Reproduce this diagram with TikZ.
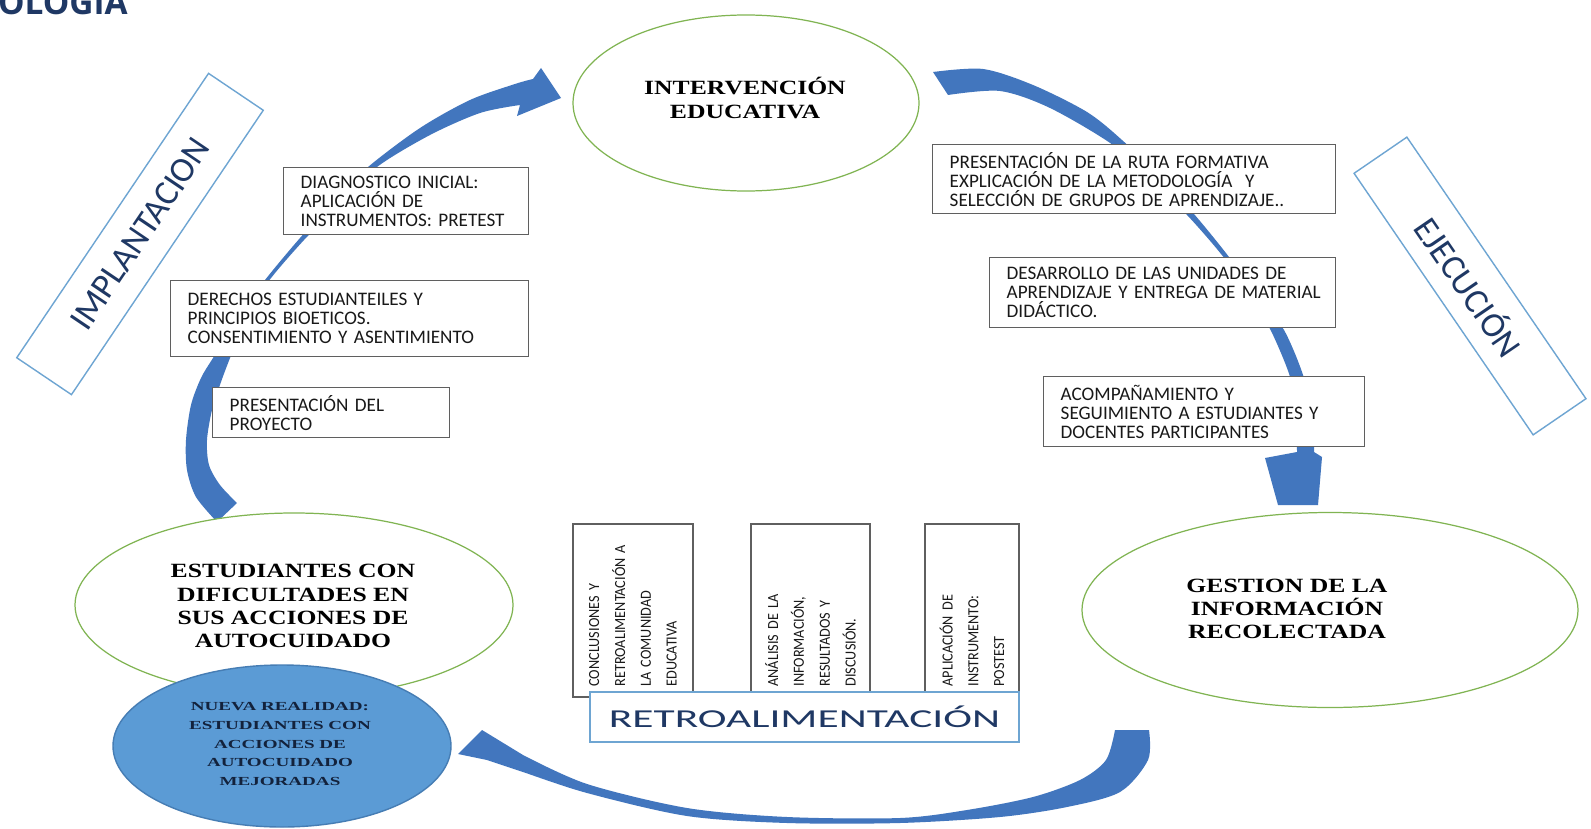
\documentclass[tikz,border=0pt]{standalone}
\usepackage{fontspec}
\setmainfont{Liberation Serif}
\newfontfamily\boxfont{Carlito}
\newfontfamily\narrowfont{Carlito}[FakeStretch=0.92]
\newfontfamily\widefont{Carlito}[FakeStretch=1.68]
\newfontfamily\ovalfont{Liberation Serif}[FakeStretch=1.27]
\newfontfamily\nuevafont{Liberation Serif}[FakeStretch=1.55]
\newfontfamily\headfont{Open Sans}
\usetikzlibrary{positioning,shapes.geometric}
\definecolor{arcblue}{RGB}{66,118,190}
\definecolor{ovalgreen}{RGB}{128,180,82}
\definecolor{nuevablue}{RGB}{91,155,213}
\definecolor{nuevaedge}{RGB}{70,125,180}
\definecolor{navy}{RGB}{31,56,100}
\definecolor{framegray}{RGB}{95,95,95}
\definecolor{labelblue}{RGB}{110,165,210}
\def\pxu{0.02cm}

\begin{document}
\begin{tikzpicture}[x=0.02cm,y=-0.02cm,
  oval/.style={ellipse,draw=ovalgreen,line width=0.7pt,fill=white,inner sep=0pt},
  ovaltxt/.style={font=\ovalfont\bfseries\fontsize{11.5}{13.2}\selectfont,align=center,inner sep=0pt},
  txtbox/.style={draw=framegray,line width=0.8pt,fill=white,anchor=north west,
    font=\boxfont\fontsize{10.9}{10.8}\selectfont,text=black!90,align=left,inner xsep=17*\pxu,inner ysep=0pt},
  vbox/.style={draw=framegray,line width=0.8pt,fill=white,rotate=90,minimum width=173*\pxu,
    font=\narrowfont\fontsize{8.8}{14.7}\selectfont,text=black!90,align=left,
    text width=152*\pxu,inner xsep=10.5*\pxu,inner ysep=0pt},
  lblbox/.style={draw=labelblue,line width=0.8pt,fill=white,inner sep=0pt,
    font=\boxfont\fontsize{20}{24}\selectfont,text=navy}]
\useasboundingbox (0,0) rectangle (1591,828);
\fill[white] (0,0) rectangle (1591,828);
% cut-off heading at the top edge
\node[anchor=base east,inner sep=0pt,font=\headfont\bfseries\fontsize{19}{19}\selectfont,text=navy] (heading) at (128,15) {OLOGIA};

% curved block arrows (drawn first, boxes cover them)
% left arc: implantacion
\fill[arcblue] plot[smooth] coordinates {(217,522) (196,497) (187,470) (186,440) (191,405) (201,378) (213,358)
  (240,315) (265,280) (300,238) (335,200) (368,167) (420,128) (470,100) (515,84) (533,79)}
  -- (541,68) -- (561,98) -- (517,116)
  -- plot[smooth] coordinates {(520,105) (480,113) (430,135) (377,167) (340,204) (304,240) (268,282)
  (245,320) (230,358) (221,382) (212,410) (207,440) (209,465) (220,485) (237,503)} -- cycle;
% right arc: ejecucion
\fill[arcblue] plot[smooth] coordinates {(933,72) (983,69) (1033,85) (1087,112) (1122,140) (1160,177) (1194,214)
  (1229,257) (1262,303) (1284,330) (1303,375) (1313,420) (1314,452)}
  -- (1322,457) -- (1318,505) -- (1278,505) -- (1265,458)
  -- plot[smooth] coordinates {(1297,452) (1296,420) (1291,380) (1273,335) (1255,303) (1225,259) (1187,215)
  (1150,180) (1113,145) (1050,108) (1000,91) (948,95)} -- cycle;
% bottom arc: retroalimentacion
\fill[arcblue] plot[smooth] coordinates {(1149,730) (1148,760) (1120,792) (1067,807) (1000,817) (900,823)
  (787,823) (687,816) (587,793) (520,771) (487,760)}
  -- (458,754) -- (482,730) -- (523,755)
  -- plot[smooth] coordinates {(523,755) (587,784) (687,808) (787,817) (900,818) (967,810) (1033,797)
  (1080,780) (1106,760) (1115,730)} -- cycle;

% ellipses
\node[oval,minimum width=346*\pxu,minimum height=176*\pxu] (interv) at (746,103) {};
\node[oval,minimum width=438*\pxu,minimum height=184*\pxu] (estud) at (294,605) {};
\node[oval,minimum width=496*\pxu,minimum height=195*\pxu] (gestion) at (1330,610) {};
\node[ellipse,draw=nuevaedge,line width=0.8pt,fill=nuevablue,inner sep=0pt,
  minimum width=338*\pxu,minimum height=162*\pxu] (nueva) at (282,746) {};
\node[ovaltxt] (intervtxt) at (745,98) {INTERVENCIÓN\\EDUCATIVA};
\node[ovaltxt] (estudtxt) at (293,606) {ESTUDIANTES CON\\DIFICULTADES EN\\SUS ACCIONES DE\\AUTOCUIDADO};
\node[ovaltxt] (gestiontxt) at (1287,609) {GESTION DE LA\\INFORMACIÓN\\RECOLECTADA};
\node[align=center,inner sep=0pt,text=navy!60!black,font=\nuevafont\bfseries\fontsize{7}{10.6}\selectfont]
  (nuevatxt) at (280,744) {NUEVA REALIDAD:\\ESTUDIANTES CON\\ACCIONES DE\\AUTOCUIDADO\\MEJORADAS};

% tilted phase labels
\node[lblbox,rotate=56,minimum width=343*\pxu,minimum height=66*\pxu] (implant) at (140,234) {IMPLANTACION};
\node[lblbox,rotate=-55.6,minimum width=317*\pxu,minimum height=64*\pxu] (ejec) at (1470,286) {EJECUCIÓN};

% step boxes, left side
\node[txtbox,text width=211*\pxu,minimum height=67*\pxu] (diag) at (283,167)
  {DIAGNOSTICO INICIAL:\\APLICACIÓN DE\\INSTRUMENTOS: PRETEST};
\node[txtbox,text width=324*\pxu,minimum height=76*\pxu] (derech) at (170,280)
  {DERECHOS ESTUDIANTEILES Y\\PRINCIPIOS BIOETICOS.\\CONSENTIMIENTO Y ASENTIMIENTO};
\node[txtbox,text width=203*\pxu,minimum height=50*\pxu] (proyec) at (212,387)
  {PRESENTACIÓN DEL\\PROYECTO};
% step boxes, right side
\node[txtbox,text width=369*\pxu,minimum height=69*\pxu] (ruta) at (932,144)
  {PRESENTACIÓN DE LA RUTA FORMATIVA\\EXPLICACIÓN DE LA METODOLOGÍA~ Y\\SELECCIÓN DE GRUPOS DE APRENDIZAJE..};
\node[txtbox,text width=312*\pxu,minimum height=70*\pxu] (desarr) at (989,257)
  {DESARROLLO DE LAS UNIDADES DE\\\mbox{APRENDIZAJE Y ENTREGA DE MATERIAL}\\DIDÁCTICO.};
\node[txtbox,text width=287*\pxu,minimum height=70*\pxu] (acomp) at (1043,376)
  {ACOMPAÑAMIENTO Y\\SEGUIMIENTO A ESTUDIANTES Y\\DOCENTES PARTICIPANTES};

% feedback columns
\node[vbox,minimum height=120*\pxu] (concl) at (633,610.5)
  {CONCLUSIONES Y\\RETROALIMENTACIÓN A\\LA COMUNIDAD\\EDUCATIVA};
\node[vbox,minimum height=119*\pxu] (analis) at (810.5,610.5)
  {ANÁLISIS DE LA\\INFORMACIÓN,\\RESULTADOS Y\\DISCUSIÓN.};
\node[vbox,minimum height=94*\pxu] (postest) at (972,610.5)
  {APLICACIÓN DE\\INSTRUMENTO:\\POSTEST};
\node[draw=labelblue,line width=0.8pt,fill=white,inner sep=0pt,minimum width=429*\pxu,minimum height=50*\pxu,
  font=\widefont\fontsize{14.7}{16}\selectfont,text=navy] (retro) at (804.5,717) {RETROALIMENTACIÓN};
\end{tikzpicture}
\end{document}
